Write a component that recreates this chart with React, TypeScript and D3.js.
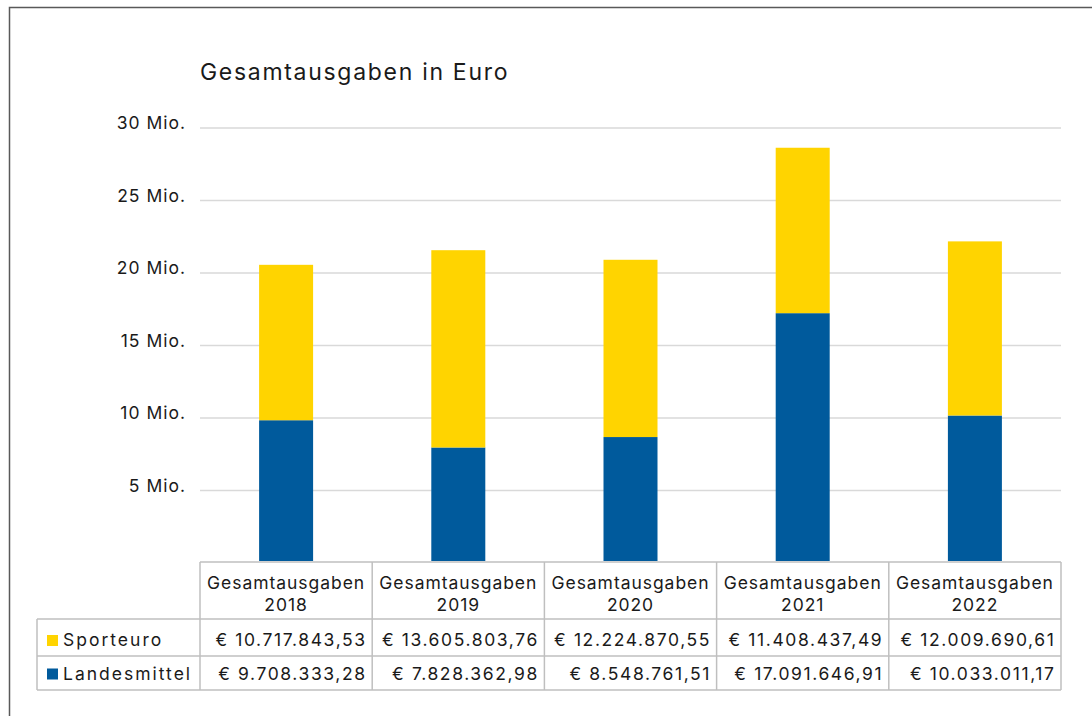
import React from 'react';
import * as d3 from 'd3';

const years = ['2018', '2019', '2020', '2021', '2022'];
const sporteuro = [10717843.53, 13605803.76, 12224870.55, 11408437.49, 12009690.61];
const landesmittel = [9708333.28, 7828362.98, 8548761.51, 17091646.91, 10033011.17];
const yTicks = [5e6, 10e6, 15e6, 20e6, 25e6, 30e6];
const seriesNames = ['Sporteuro', 'Landesmittel'];
const seriesColors = ['#FFD400', '#005A9C'];

const FONT = 'Inter, "Open Sans", sans-serif';
const TEXT = '#1a1a1a';

const de = d3.formatLocale({ decimal: ',', thousands: '.', grouping: [3], currency: ['€ ', ''] });
const fmtEuro = (v: number) => '€ ' + de.format(',.2f')(v);

const App: React.FC = () => {
    const width = 1092;
    const height = 716;

    // plot area
    const left = 200;
    const right = 1061;
    const top = 128;
    const zeroY = 563;

    const x = d3.scaleBand<string>().domain(years).range([left, right]);
    const y = d3.scaleLinear().domain([0, 30e6]).range([zeroY, top]);
    const barW = 54;

    const idx = years.map((_, i) => i);
    const stacked = d3.stack<number, string>()
        .keys(['landesmittel', 'sporteuro'])
        .value((i, key) => (key === 'landesmittel' ? landesmittel[i] : sporteuro[i]))(idx);

    // table geometry
    const tLeft = 37;
    const rowHeader = [562, 619];
    const rowSport = [619, 656];
    const rowLand = [656, 690];
    const gridColor = '#bfbfbf';
    const tableRows = [
        { name: seriesNames[0], color: seriesColors[0], values: sporteuro, r: rowSport, base: 646, sq: 635 },
        { name: seriesNames[1], color: seriesColors[1], values: landesmittel, r: rowLand, base: 679.5, sq: 668.5 },
    ];

    return (
        <div style={{ position: 'fixed', left: 0, top: 0 }}>
            <svg width={width} height={height} style={{ display: 'block', fontFamily: FONT }}>
                <rect x={0} y={0} width={width} height={height} fill="white" />
                <rect x={9.5} y={7.5} width={width + 20} height={height + 20} fill="none" stroke="#595959" strokeWidth={1.5} />

                <text x={left} y={79.5} fontSize={23} letterSpacing={1.7} fill={TEXT}>Gesamtausgaben in Euro</text>

                {/* gridlines + y labels */}
                {yTicks.map((t) => (
                    <g key={t}>
                        <line x1={left} x2={right} y1={y(t)} y2={y(t)} stroke="#d9d9d9" strokeWidth={1.5} />
                        <text x={186} y={y(t) + 1} textAnchor="end" fontSize={17.5} letterSpacing={1} fill={TEXT}>
                            {`${t / 1e6} Mio.`}
                        </text>
                    </g>
                ))}

                {/* stacked bars */}
                {stacked.map((layer, li) => (
                    <g key={layer.key} fill={li === 0 ? seriesColors[1] : seriesColors[0]}>
                        {layer.map((d, i) => (
                            <rect
                                key={i}
                                x={(x(years[i]) as number) + x.bandwidth() / 2 - barW / 2}
                                y={y(d[1]) - 2}
                                width={barW}
                                height={y(d[0]) - y(d[1])}
                            />
                        ))}
                    </g>
                ))}

                {/* data table */}
                <g stroke={gridColor} strokeWidth={1.5} fill="none">
                    <line x1={left} x2={right} y1={rowHeader[0]} y2={rowHeader[0]} />
                    <line x1={tLeft} x2={right} y1={rowSport[0]} y2={rowSport[0]} />
                    <line x1={tLeft} x2={right} y1={rowLand[0]} y2={rowLand[0]} />
                    <line x1={tLeft} x2={right} y1={rowLand[1]} y2={rowLand[1]} />
                    <line x1={tLeft} x2={tLeft} y1={rowSport[0]} y2={rowLand[1]} />
                    {years.map((yr) => (
                        <line key={yr} x1={x(yr)} x2={x(yr)} y1={rowHeader[0]} y2={rowLand[1]} />
                    ))}
                    <line x1={right} x2={right} y1={rowHeader[0]} y2={rowLand[1]} />
                </g>

                {years.map((yr) => {
                    const cx = (x(yr) as number) + x.bandwidth() / 2;
                    return (
                        <g key={yr} fontSize={17.5} letterSpacing={0.95} fill={TEXT} textAnchor="middle">
                            <text x={cx} y={589}>Gesamtausgaben</text>
                            <text x={cx} y={611}>{yr}</text>
                        </g>
                    );
                })}

                {tableRows.map((row) => (
                    <g key={row.name} fontSize={17.5} fill={TEXT}>
                        <rect x={47} y={row.sq} width={11} height={11} fill={row.color} />
                        <text x={63} y={row.base} letterSpacing={2}>{row.name}</text>
                        {row.values.map((v, i) => (
                            <text
                                key={i}
                                x={(x(years[i]) as number) + x.bandwidth() - 5.5}
                                y={row.base}
                                textAnchor="end"
                                letterSpacing={1.6}
                            >
                                {fmtEuro(v)}
                            </text>
                        ))}
                    </g>
                ))}
            </svg>
        </div>
    );
};

export default App;
